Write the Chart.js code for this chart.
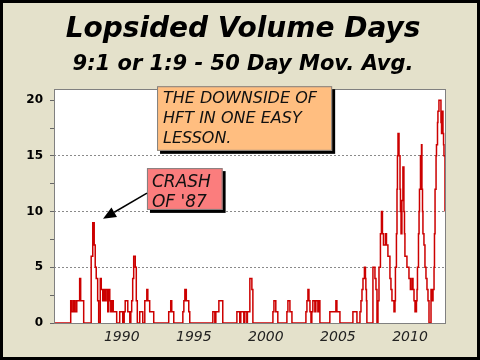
<!DOCTYPE html>
<html>
<head>
<meta charset="utf-8">
<script src="https://cdn.jsdelivr.net/npm/chart.js@4.4.0/dist/chart.umd.min.js"></script>
<style>
  body { margin: 0; background: #fff; }
  #wrap { width: 480px; height: 360px; }
</style>
</head>
<body>
<div id="wrap"><canvas id="chart" width="480" height="360"></canvas></div>
<script>
// 50 day moving average of 9:1 / 1:9 days (decimal years)
var years = [
  1985.28, 1986.46, 1986.56, 1986.67, 1986.77, 1986.88, 1987.08, 1987.15, 1987.36, 1987.88,
  1987.99, 1988.09, 1988.16, 1988.23, 1988.33, 1988.40, 1988.51, 1988.58, 1988.68, 1988.75,
  1988.85, 1988.92, 1989.03, 1989.10, 1989.17, 1989.24, 1989.34, 1989.41, 1989.65, 1989.86,
  1990.07, 1990.17, 1990.24, 1990.42, 1990.56, 1990.63, 1990.69, 1990.76, 1990.83, 1990.94,
  1991.01, 1991.08, 1991.25, 1991.46, 1991.60, 1991.74, 1991.81, 1991.94, 1992.22, 1993.26,
  1993.40, 1993.47, 1993.61, 1994.24, 1994.31, 1994.38, 1994.48, 1994.65, 1994.72, 1996.32,
  1996.46, 1996.53, 1996.74, 1997.01, 1997.99, 1998.19, 1998.26, 1998.47, 1998.54, 1998.68,
  1998.72, 1998.89, 1999.03, 1999.10, 2000.49, 2000.56, 2000.69, 2000.83, 2001.46, 2001.53,
  2001.67, 2001.81, 2002.78, 2002.85, 2002.92, 2002.99, 2003.06, 2003.13, 2003.19, 2003.26,
  2003.40, 2003.47, 2003.61, 2003.68, 2003.75, 2004.44, 2004.86, 2004.93, 2005.14, 2006.04,
  2006.32, 2006.53, 2006.60, 2006.67, 2006.74, 2006.84, 2006.91, 2006.94, 2006.98, 2007.01,
  2007.43, 2007.57, 2007.64, 2007.71, 2007.78, 2007.85, 2007.95, 2008.02, 2008.09, 2008.16,
  2008.30, 2008.37, 2008.47, 2008.61, 2008.68, 2008.75, 2008.89, 2008.96, 2008.99, 2009.06,
  2009.10, 2009.13, 2009.17, 2009.24, 2009.31, 2009.34, 2009.38, 2009.44, 2009.51, 2009.58,
  2009.62, 2009.65, 2009.79, 2009.93, 2010.03, 2010.14, 2010.21, 2010.28, 2010.35, 2010.45,
  2010.49, 2010.52, 2010.59, 2010.63, 2010.66, 2010.73, 2010.80, 2010.83, 2010.87, 2010.90,
  2010.97, 2011.04, 2011.11, 2011.18, 2011.25, 2011.32, 2011.46, 2011.53, 2011.60, 2011.67,
  2011.70, 2011.74, 2011.81, 2011.84, 2011.91, 2011.94, 2012.01, 2012.12, 2012.15, 2012.19,
  2012.22, 2012.29, 2012.33, 2012.36, 2012.43
];
var days = [
  0, 2, 1, 2, 1, 2, 4, 2, 0, 6,
  9, 7, 5, 4, 2, 0, 4, 3, 2, 3,
  2, 3, 1, 3, 2, 1, 2, 1, 0, 1,
  0, 1, 2, 1, 0, 1, 2, 4, 6, 5,
  2, 0, 1, 0, 2, 3, 2, 1, 0, 1,
  2, 1, 0, 1, 2, 3, 2, 1, 0, 1,
  0, 1, 2, 0, 1, 0, 1, 0, 1, 0,
  1, 4, 3, 0, 1, 2, 1, 0, 1, 2,
  1, 0, 1, 2, 3, 2, 1, 0, 1, 2,
  1, 2, 1, 2, 0, 1, 2, 1, 0, 1,
  0, 1, 2, 3, 4, 5, 4, 3, 2, 0,
  5, 4, 3, 0, 2, 5, 8, 10, 8, 7,
  8, 7, 6, 4, 3, 2, 1, 2, 5, 8,
  12, 15, 17, 15, 12, 10, 8, 11, 14, 10,
  8, 6, 5, 4, 3, 4, 3, 2, 1, 2,
  3, 5, 8, 10, 12, 15, 16, 12, 10, 8,
  7, 5, 4, 3, 2, 0, 3, 2, 3, 5,
  8, 12, 15, 16, 18, 19, 20, 20, 18, 17,
  19, 17, 16, 15, 10
];
var xTicks = [1990, 1995, 2000, 2005, 2010];
var yTicks = [0, 2.5, 5, 7.5, 10, 12.5, 15, 17.5, 20];
var yGrid = [5, 10, 15];

var titleText = 'Lopsided Volume Days';
var subText = '9:1 or 1:9 - 50 Day Mov. Avg.';
var hftNote = ['THE DOWNSIDE OF', 'HFT IN ONE EASY', 'LESSON.'];
var crashNote = ['CRASH', "OF '87"];

var points = years.map(function(y, i) { return {x: y, y: days[i]}; });

function noteBox(ctx, x0, y0, x1, y1, fill) {
  var w = x1 - x0, h = y1 - y0;
  ctx.fillStyle = '#000';
  ctx.fillRect(x0 + 3, y0 + 3, w, h);
  ctx.fillStyle = fill;
  ctx.fillRect(x0, y0, w, h);
  ctx.strokeStyle = '#808080';
  ctx.lineWidth = 1;
  ctx.strokeRect(x0 + 0.5, y0 + 0.5, w - 1, h - 1);
}

var decor = {
  id: 'decor',
  beforeDraw: function(chart) {
    var ctx = chart.ctx, a = chart.chartArea;
    ctx.save();
    ctx.fillStyle = '#e4e1cb';
    ctx.fillRect(0, 0, chart.width, chart.height);
    ctx.fillStyle = '#fff';
    ctx.fillRect(a.left, a.top, a.right - a.left, a.bottom - a.top);
    // titles
    ctx.fillStyle = '#000';
    ctx.textAlign = 'center';
    ctx.textBaseline = 'alphabetic';
    ctx.font = 'italic bold 28px "DejaVu Sans"';
    ctx.fillText(titleText, 243, 37);
    ctx.font = 'italic bold 21px "DejaVu Sans"';
    ctx.fillText(subText, 243, 70);
    ctx.restore();
  },
  afterDraw: function(chart) {
    var ctx = chart.ctx, a = chart.chartArea;
    var xs = chart.scales.x, ys = chart.scales.y;
    ctx.save();
    // plot frame
    ctx.strokeStyle = '#808080';
    ctx.lineWidth = 1;
    ctx.strokeRect(a.left + 0.5, a.top + 0.5, a.right - a.left - 1, a.bottom - a.top);

    // HFT note
    var hx = xs.getPixelForValue(1992.45), hy = ys.getPixelForValue(21.25);
    var hx1 = xs.getPixelForValue(2004.6), hy1 = ys.getPixelForValue(15.45);
    noteBox(ctx, hx, hy, hx1, hy1, '#ffbe80');
    ctx.fillStyle = '#111';
    ctx.textAlign = 'left';
    ctx.textBaseline = 'alphabetic';
    ctx.font = 'italic 16px "DejaVu Sans"';
    hftNote.forEach(function(t, i) { ctx.fillText(t, hx + 6, hy + 16.5 + i * 20); });

    // crash note + arrow
    var cx = xs.getPixelForValue(1991.75), cy = ys.getPixelForValue(13.9);
    var cx1 = xs.getPixelForValue(1997.0), cy1 = ys.getPixelForValue(10.15);
    noteBox(ctx, cx, cy, cx1, cy1, '#fb7d7d');
    ctx.fillStyle = '#111';
    ctx.font = 'italic 17px "DejaVu Sans"';
    crashNote.forEach(function(t, i) { ctx.fillText(t, cx + 5, cy + 18.5 + i * 20); });

    var ax0 = cx, ay0 = ys.getPixelForValue(11.65);
    var ax1 = xs.getPixelForValue(1988.7), ay1 = ys.getPixelForValue(9.35);
    var ang = Math.atan2(ay1 - ay0, ax1 - ax0);
    var hl = 13, hw = 5.5;
    var bx = ax1 - hl * Math.cos(ang), by = ay1 - hl * Math.sin(ang);
    ctx.strokeStyle = '#000';
    ctx.lineWidth = 1.5;
    ctx.beginPath();
    ctx.moveTo(ax0, ay0);
    ctx.lineTo(bx, by);
    ctx.stroke();
    ctx.fillStyle = '#000';
    ctx.beginPath();
    ctx.moveTo(ax1, ay1);
    ctx.lineTo(bx + hw * Math.sin(ang), by - hw * Math.cos(ang));
    ctx.lineTo(bx - hw * Math.sin(ang), by + hw * Math.cos(ang));
    ctx.closePath();
    ctx.fill();

    // outer frame
    ctx.strokeStyle = '#000';
    ctx.lineWidth = 3;
    ctx.strokeRect(1.5, 1.5, chart.width - 3, chart.height - 3);
    ctx.restore();
  }
};

window.onload = function() {
  var ctx = document.getElementById('chart').getContext('2d');
  window.volChart = new Chart(ctx, {
    type: 'line',
    data: {
      datasets: [{
        label: 'Lopsided days',
        data: points,
        stepped: true,
        borderColor: '#cc0000',
        borderWidth: 1.5,
        pointRadius: 0,
        fill: false
      }]
    },
    options: {
      responsive: false,
      animation: false,
      layout: { padding: { top: 89, right: 34, bottom: 0, left: 0 } },
      plugins: {
        legend: { display: false },
        title: { display: false },
        tooltip: { enabled: false }
      },
      scales: {
        x: {
          type: 'linear',
          min: 1985.3,
          max: 2012.5,
          afterBuildTicks: function(scale) {
            scale.ticks = xTicks.map(function(v) { return {value: v}; });
          },
          afterFit: function(scale) { scale.height = 37; },
          grid: { display: false, drawTicks: false },
          border: { display: false },
          ticks: {
            padding: 6,
            color: '#222',
            maxRotation: 0,
            font: { family: '"DejaVu Sans"', size: 14, style: 'italic' },
            callback: function(v) { return String(v); }
          }
        },
        y: {
          min: 0,
          max: 21,
          afterBuildTicks: function(scale) {
            scale.ticks = yTicks.map(function(v) { return {value: v}; });
          },
          afterFit: function(scale) { scale.width = 54; },
          border: { display: false, dash: [2, 2] },
          grid: {
            color: function(c) {
              return c.tick && yGrid.indexOf(c.tick.value) >= 0 ? '#8a8a8a' : 'rgba(0,0,0,0)';
            },
            tickColor: '#666',
            tickLength: 4,
            tickBorderDash: [],
            lineWidth: 1
          },
          ticks: {
            padding: 7,
            color: '#000',
            font: { family: '"DejaVu Sans"', size: 12, weight: 'bold' },
            callback: function(v) { return v % 5 === 0 ? v : ''; }
          }
        }
      }
    },
    plugins: [decor]
  });
};
</script>
</body>
</html>
